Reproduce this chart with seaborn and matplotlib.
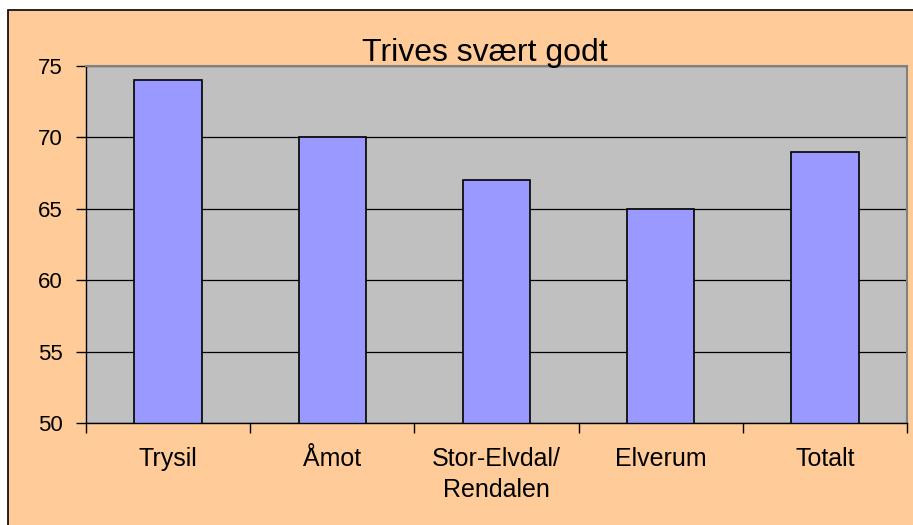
import matplotlib
matplotlib.use("Agg")
import matplotlib.pyplot as plt
import seaborn as sns
import pandas as pd
from matplotlib.patches import Rectangle

categories = ["Trysil", "Åmot", "Stor-Elvdal/\nRendalen", "Elverum", "Totalt"]
values = [74, 70, 67, 65, 69]
yticks = [50, 55, 60, 65, 70, 75]
title = "Trives svært godt"

sns.set_theme(style="white")
plt.rcParams['font.family'] = ['Liberation Sans', 'DejaVu Sans']
plt.rcParams['text.color'] = 'black'
plt.rcParams['xtick.color'] = 'black'
plt.rcParams['ytick.color'] = 'black'

df = pd.DataFrame({"kommune": categories, "verdi": values})

fig = plt.figure(figsize=(9.13, 5.25), dpi=100)
fig.patch.set_facecolor("white")
bg = Rectangle((8/913, -0.01), 1, 1.01 - 10/525, transform=fig.transFigure,
               facecolor="#FFCC99", edgecolor="black", linewidth=1.2, zorder=-10)
fig.add_artist(bg)

ax = fig.add_axes([86/913, 1 - 423/525, (907 - 86)/913, (423 - 66)/525])
ax.set_zorder(5)
ax.set_facecolor("#C0C0C0")
sns.barplot(data=df, x="kommune", y="verdi", ax=ax, color="#9999FF", width=0.41,
            edgecolor="black", linewidth=1.2, saturation=1)
ax.set_ylim(50, 75)
ax.set_xlim(-0.5, len(categories) - 0.5)
ax.set_yticks(yticks)
ax.set_yticklabels([str(t) for t in yticks], fontsize=16)
ax.yaxis.grid(True, color="black", linewidth=0.9)
ax.set_axisbelow(True)
ax.set_xlabel("")
ax.set_ylabel("")

ax.set_xticks(range(len(categories)))
ax.set_xticklabels(categories, fontsize=18, linespacing=1.4)
ax.tick_params(axis="x", length=0, pad=17)
ax.set_xticks([i - 0.5 for i in range(len(categories) + 1)], minor=True)
ax.tick_params(axis="x", which="minor", length=7, width=1, color="black", direction="out", bottom=True)
ax.tick_params(axis="y", length=7, width=1, color="black", direction="out", pad=10, left=True)

for s in ["left", "bottom"]:
    ax.spines[s].set_color("black")
    ax.spines[s].set_linewidth(1)
for s in ["top", "right"]:
    ax.spines[s].set_color("#808080")
    ax.spines[s].set_linewidth(1.5)

fig.text(485/913, 1 - 61/525, title, ha="center", va="baseline", fontsize=23, color="black", zorder=20)

fig.savefig("out.png", dpi=100, facecolor=fig.get_facecolor())
